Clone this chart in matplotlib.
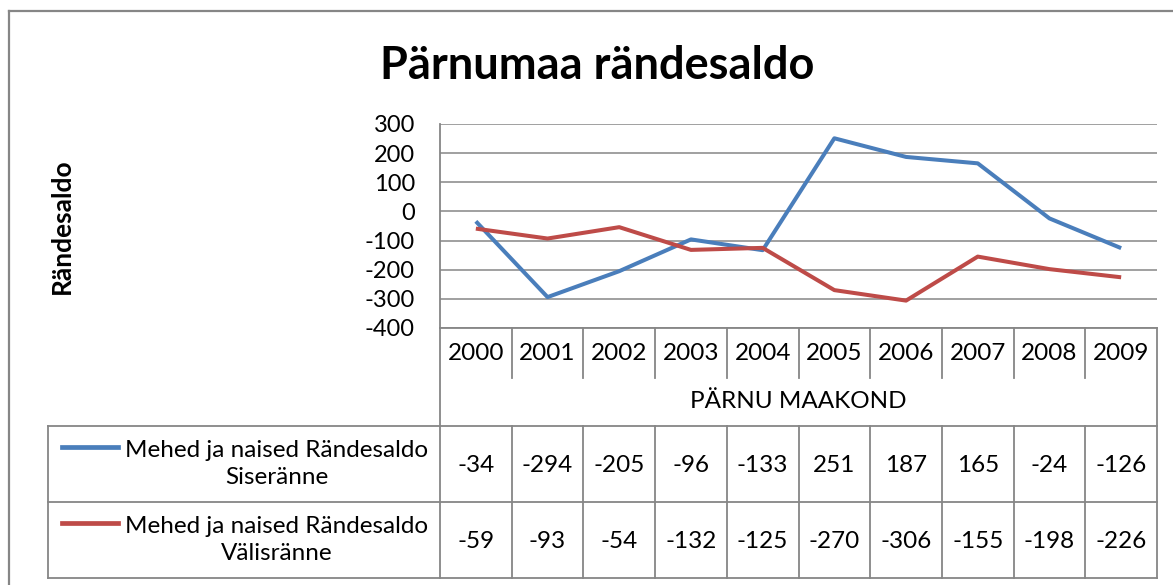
import matplotlib.pyplot as plt
from matplotlib.lines import Line2D

years = ["2000", "2001", "2002", "2003", "2004", "2005", "2006", "2007", "2008", "2009"]
sise = [-34, -294, -205, -96, -133, 251, 187, 165, -24, -126]
valis = [-59, -93, -54, -132, -125, -270, -306, -155, -198, -226]
series_names = ["Mehed ja naised Rändesaldo\nSiseränne", "Mehed ja naised Rändesaldo\nVälisränne"]
y_ticks = [300, 200, 100, 0, -100, -200, -300, -400]

W, H = 1173, 585
BLUE = "#4A7EBB"
RED = "#BE4B48"
GRID = "#868686"
FONT = "Lato"
FS = 17.5

plt.rcParams["font.family"] = [FONT, "DejaVu Sans"]

fig = plt.figure(figsize=(W / 100, H / 100), dpi=100)


def fx(px):
    return px / W


def fy(py):
    return 1 - py / H


def hline(y, x0, x1, lw=1.3):
    fig.add_artist(Line2D([fx(x0), fx(x1)], [fy(y), fy(y)], color=GRID, lw=lw))


def vline(x, y0, y1, lw=1.3):
    fig.add_artist(Line2D([fx(x), fx(x)], [fy(y0), fy(y1)], color=GRID, lw=lw))


# plot area in pixels
left, right, top, bottom = 440, 1157, 124, 328
colw = (right - left) / len(years)

ax = fig.add_axes([fx(left), fy(bottom), fx(right) - fx(left), fy(top) - fy(bottom)])
x = list(range(len(years)))
ax.plot(x, sise, color=BLUE, lw=2.9, solid_capstyle="butt")
ax.plot(x, valis, color=RED, lw=2.9, solid_capstyle="butt")
ax.set_xlim(-0.5, len(years) - 0.5)
ax.set_ylim(min(y_ticks), max(y_ticks))
ax.set_yticks(y_ticks)
ax.set_yticklabels([str(v) for v in y_ticks], fontsize=FS - 0.5)
ax.set_xticks([])
ax.tick_params(axis="y", length=0, pad=18)
ax.grid(axis="y", color=GRID, lw=1.1)
for side in ["top", "right", "bottom"]:
    ax.spines[side].set_visible(False)
ax.spines["left"].set_color(GRID)
ax.spines["left"].set_linewidth(1.3)
ax.set_axisbelow(True)

# title and axis label
fig.text(fx(597), fy(66), "Pärnumaa rändesaldo", ha="center", va="center",
         fontsize=32.5, fontweight="bold")
fig.text(fx(62), fy(226), "Rändesaldo", ha="center", va="center",
         rotation=90, fontsize=19, fontweight="bold")

# outer chart border
hline(11, 9, W, lw=1.6)
vline(9, 11, H, lw=1.6)

# data table grid
year_bottom, cat_bottom = 378, 426
row1, row2 = 502, 578
tab_left = 48
hline(bottom, left, right)
vline(left, bottom, row2)
vline(right, bottom, row2)
for i in range(1, len(years)):
    vline(left + i * colw, bottom, year_bottom)
    vline(left + i * colw, cat_bottom, row2)
for yy in [cat_bottom, row1, row2]:
    hline(yy, tab_left, right)
vline(tab_left, cat_bottom, row2)

for i, yr in enumerate(years):
    cx = left + (i + 0.5) * colw
    fig.text(fx(cx), fy(354), yr, ha="center", va="center", fontsize=FS)
    fig.text(fx(cx), fy(465), str(sise[i]), ha="center", va="center", fontsize=FS)
    fig.text(fx(cx), fy(541), str(valis[i]), ha="center", va="center", fontsize=FS)
fig.text(fx((left + right) / 2), fy(402), "PÄRNU MAAKOND", ha="center", va="center",
         fontsize=FS)

# row labels with legend keys
for name, color, y0, y1 in [(series_names[0], BLUE, cat_bottom, row1),
                            (series_names[1], RED, row1, row2)]:
    ymid = (y0 + y1) / 2
    fig.add_artist(Line2D([fx(62), fx(118)], [fy(ymid - 17), fy(ymid - 17)],
                          color=color, lw=3.4))
    fig.text(fx(277), fy(ymid), name, ha="center", va="center", fontsize=FS,
             linespacing=1.35)

fig.savefig("out.png", dpi=100)
